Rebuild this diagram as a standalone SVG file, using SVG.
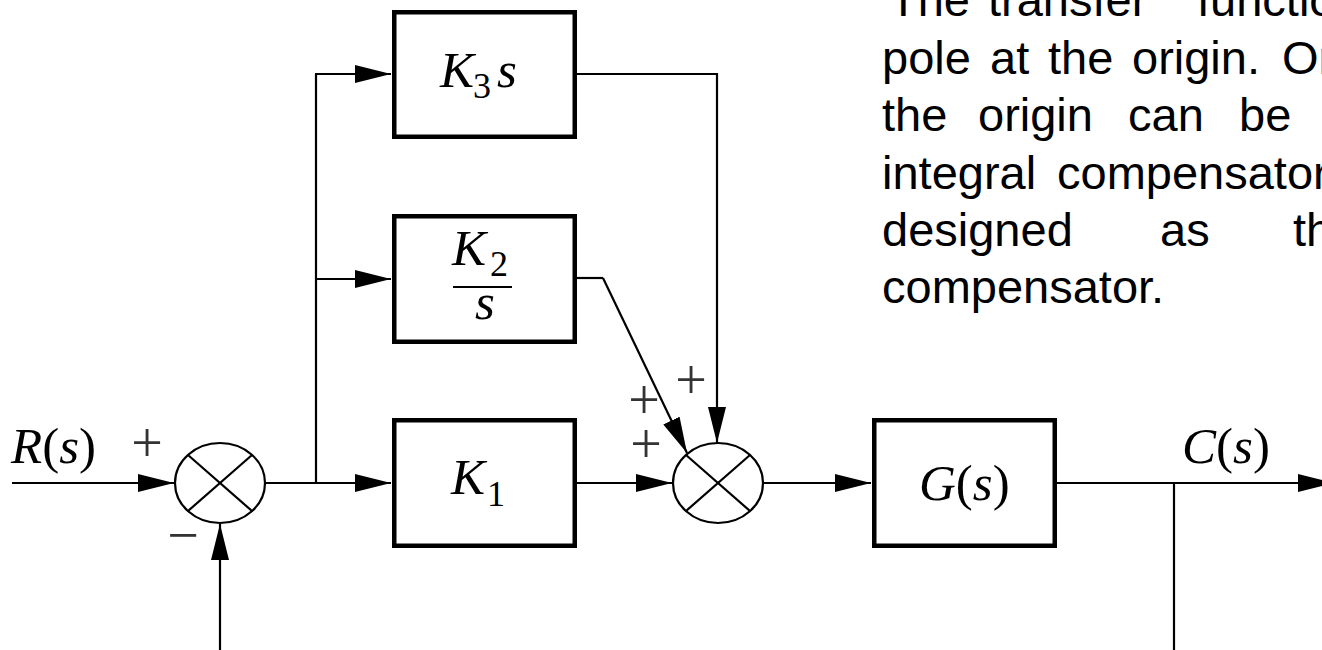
<svg xmlns="http://www.w3.org/2000/svg" width="1322" height="650" viewBox="0 0 1322 650">
<defs>
<marker id="ah" viewBox="0 0 36 18" refX="36" refY="9" markerWidth="36" markerHeight="18" markerUnits="userSpaceOnUse" orient="auto">
<path d="M0,0 L36,9 L0,18 Z" fill="#000"/>
</marker>
<style>
.blk{fill:#fff;stroke:#000;stroke-width:4.5}
.sum{fill:#fff;stroke:#000;stroke-width:2.2}
.ln{fill:none;stroke:#000;stroke-width:2.2}
.arr{fill:none;stroke:#000;stroke-width:2.2;marker-end:url(#ah)}
.math{font-family:"Liberation Serif","Times New Roman",serif;font-size:51px;fill:#000}
.it{font-style:italic}
.sub{font-size:36px}
.sgn{font-family:"Liberation Serif","Times New Roman",serif;font-size:56px;fill:#333;text-anchor:middle}
.para{font-family:"Liberation Sans",Arial,sans-serif;font-size:47px;fill:#000}
</style>
</defs>
<rect width="1322" height="650" fill="#fff"/>

<g id="connectors">
<line class="arr" x1="12" y1="483" x2="174" y2="483"/>
<line class="arr" x1="220" y1="650" x2="220" y2="524"/>
<line class="ln" x1="265" y1="483" x2="316" y2="483"/>
<line class="ln" x1="316" y1="483" x2="316" y2="74"/>
<line class="arr" x1="315" y1="74" x2="391" y2="74"/>
<line class="arr" x1="315" y1="279" x2="391" y2="279"/>
<line class="arr" x1="315" y1="483" x2="391" y2="483"/>
<polyline class="ln" points="577,74 717,74 717,420"/>
<line class="arr" x1="717" y1="410" x2="717" y2="443"/>
<polyline class="ln" points="577,278 603,278"/>
<line class="arr" x1="603" y1="278" x2="687" y2="453"/>
<line class="arr" x1="577" y1="483" x2="672" y2="483"/>
<line class="arr" x1="763" y1="483" x2="871" y2="483"/>
<line class="arr" x1="1057" y1="483" x2="1334" y2="483"/>
<line class="ln" x1="1174" y1="483" x2="1174" y2="650"/>
</g>

<g id="sum1">
<ellipse class="sum" cx="220" cy="483" rx="45" ry="40"/>
<line class="ln" x1="188" y1="455" x2="252" y2="511"/>
<line class="ln" x1="188" y1="511" x2="252" y2="455"/>
<text class="sgn" x="147" y="462">+</text>
<text class="sgn" x="183" y="554">−</text>
</g>

<g id="sum2">
<ellipse class="sum" cx="718" cy="483" rx="45" ry="40"/>
<line class="ln" x1="686" y1="455" x2="750" y2="511"/>
<line class="ln" x1="686" y1="511" x2="750" y2="455"/>
<text class="sgn" x="691" y="399">+</text>
<text class="sgn" x="644" y="419">+</text>
<text class="sgn" x="646" y="463">+</text>
</g>

<g id="k3s">
<rect class="blk" x="394.25" y="12.25" width="180.5" height="124.5"/>
<text class="math"><tspan class="it" x="440" y="87">K</tspan><tspan class="sub" x="473" y="98">3</tspan><tspan class="it" x="497" y="87">s</tspan></text>
</g>

<g id="k2s">
<rect class="blk" x="394.25" y="216.25" width="180.5" height="125.5"/>
<text class="math"><tspan class="it" x="452" y="265">K</tspan><tspan class="sub" x="490" y="276">2</tspan></text>
<line x1="453" y1="287" x2="512" y2="287" stroke="#000" stroke-width="2.2"/>
<text class="math it" x="485" y="319" text-anchor="middle">s</text>
</g>

<g id="k1">
<rect class="blk" x="394.25" y="420.25" width="180.5" height="125.5"/>
<text class="math"><tspan class="it" x="451" y="494">K</tspan><tspan class="sub" x="487" y="506">1</tspan></text>
</g>

<g id="g">
<rect class="blk" x="874.25" y="420.25" width="180.5" height="125.5"/>
<text class="math" x="919" y="500"><tspan class="it">G</tspan>(<tspan class="it">s</tspan>)</text>
</g>

<g id="labels">
<text class="math" x="11" y="463"><tspan class="it">R</tspan>(<tspan class="it">s</tspan>)</text>
<text class="math" x="1182" y="463"><tspan class="it">C</tspan>(<tspan class="it">s</tspan>)</text>
</g>

<g id="paragraph" class="para">
<text y="16"><tspan x="889">The</tspan><tspan x="988">transfer</tspan><tspan x="1197">function</tspan></text>
<text y="73.5"><tspan x="882">pole</tspan><tspan x="990">at</tspan><tspan x="1048">the</tspan><tspan x="1132">origin.</tspan><tspan x="1282">On</tspan></text>
<text y="131"><tspan x="882">the</tspan><tspan x="978">origin</tspan><tspan x="1128">can</tspan><tspan x="1239">be</tspan></text>
<text y="188.5"><tspan x="882">integral</tspan><tspan x="1057">compensator</tspan></text>
<text y="246"><tspan x="882">designed</tspan><tspan x="1160">as</tspan><tspan x="1293">the</tspan></text>
<text y="303"><tspan x="882">compensator.</tspan></text>
</g>
</svg>
